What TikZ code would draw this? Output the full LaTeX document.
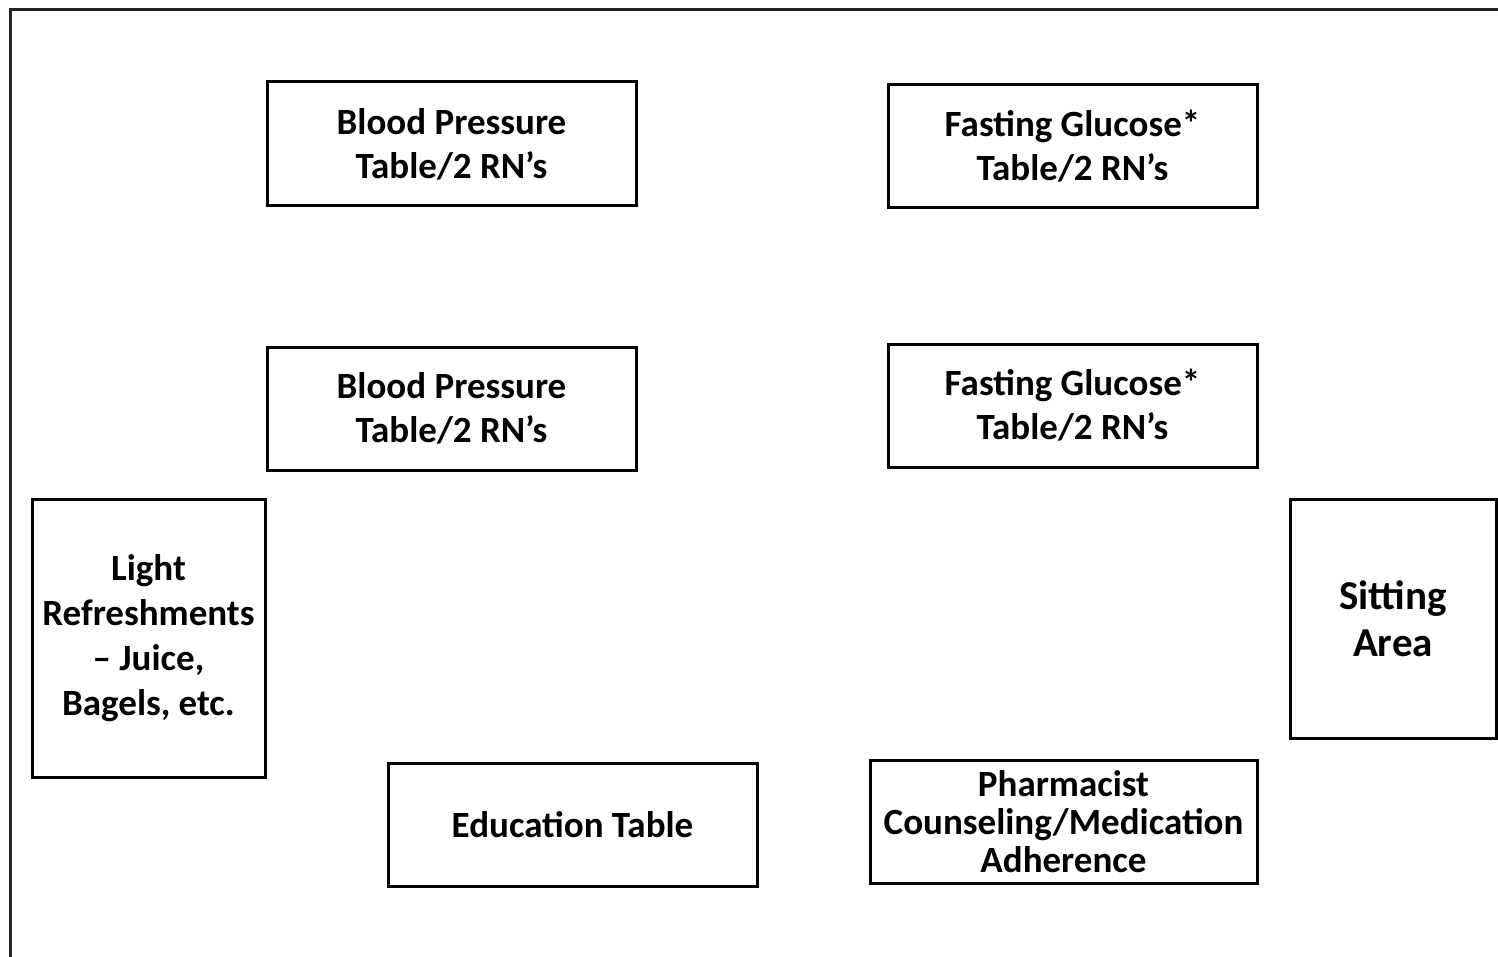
\documentclass[tikz,border=0pt]{standalone}
\usepackage{fontspec}
\setmainfont{Carlito}
\begin{document}
\begin{tikzpicture}[x=0.5pt,y=-0.5pt,
  box/.style={draw=black, line width=1.5pt, inner sep=0pt, align=center,
    font=\bfseries\fontsize{18.5}{22}\selectfont},
  frame/.style={draw=black!85, line width=1.3pt}]
\useasboundingbox (0,0) rectangle (1498,957);
\fill[white] (0,0) rectangle (1498,957);
\coordinate (fbl) at (10.5,957);
\coordinate (ftl) at (10.5,9.5);
\coordinate (ftr) at (1498,9.5);
\draw[frame] (fbl) -- (ftl) -- (ftr);

\node[box, minimum width=184.5pt, minimum height=62pt] (bp1) at (451.5,144) {Blood Pressure\\Table/2 RN’s};
\node[box, minimum width=184.5pt, minimum height=61.5pt] (fg1) at (1072.5,146.5) {Fasting Glucose*\\Table/2 RN’s};
\node[box, minimum width=184.5pt, minimum height=61.5pt] (bp2) at (451.5,408.5) {Blood Pressure\\Table/2 RN’s};
\node[box, minimum width=184.5pt, minimum height=61.5pt] (fg2) at (1072.5,405.5) {Fasting Glucose*\\Table/2 RN’s};
\node[box, minimum width=116.5pt, minimum height=139pt, font=\bfseries\fontsize{18.5}{22.5}\selectfont] (lr) at (148.5,638) {Light\\Refreshments\\– Juice,\\Bagels, etc.};
\node[box, minimum width=103pt, minimum height=119.5pt, font=\bfseries\fontsize{20.5}{23.5}\selectfont] (sa) at (1393,618.5) {Sitting\\Area};
\node[box, minimum width=184.5pt, minimum height=61.5pt] (et) at (572.5,824.5) {Education Table};
\node[box, minimum width=193.5pt, minimum height=61.5pt, font=\bfseries\fontsize{18.5}{19}\selectfont] (pc) at (1063.5,821.5) {Pharmacist\\Counseling/Medication\\Adherence};
\end{tikzpicture}
\end{document}
